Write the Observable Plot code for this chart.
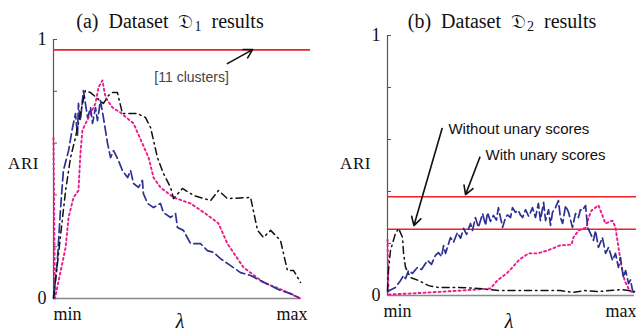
<!DOCTYPE html>
<html><head><meta charset="utf-8">
<script src="https://cdn.jsdelivr.net/npm/d3@7"></script>
<script src="https://cdn.jsdelivr.net/npm/@observablehq/plot@0.6"></script>
<style>
body{margin:0;background:#fff;}
#wrap{position:relative;width:636px;height:331px;overflow:hidden;font-family:"Liberation Serif","DejaVu Serif",serif;color:#111;}
.pl{position:absolute;top:0;}
.lbl{position:absolute;white-space:nowrap;line-height:20px;}
.ttl{font-size:20px;word-spacing:5px;}
.ttl sub{font-size:14px;vertical-align:baseline;position:relative;top:3px;margin-left:1px;}
.ari{font-size:17px;letter-spacing:0.6px;}
.lam{font-size:20px;font-style:italic;line-height:15px;}
</style></head><body><div id="wrap"></div>
<script>
// ---------- data ----------
const titles = ["(a)", "(b)"];
const datasetNames = ["\u{1D507}", "\u{1D507}"];
const datasetSubs = ["1", "2"];
const yAxisLabel = "ARI";
const xAxisLabel = "\u03BB";
const yTickLabels = [0, 1];
const yTickMarks = [0.2, 0.4, 0.6, 0.8, 1];
const xTickValues = [0, 1];
const xTickLabels = ["min", "max"];

// Panel (a)
const aBlackX = [0,0.02,0.049,0.069,0.089,0.109,0.129,0.15,0.178,0.202,0.223,0.239,0.259,0.279,0.34,0.372,0.393,0.421,0.445,0.474,0.486,0.522,0.567,0.636,0.668,0.704,0.798,0.826,0.85,0.879,0.919,0.947,0.972,1];
const aBlackY = [0,0.17,0.417,0.544,0.622,0.714,0.803,0.795,0.772,0.753,0.784,0.795,0.795,0.714,0.714,0.699,0.66,0.544,0.483,0.429,0.386,0.425,0.398,0.378,0.417,0.386,0.39,0.263,0.236,0.263,0.224,0.108,0.108,0.062];
const aPinkX = [0,0.006,0.015,0.049,0.061,0.081,0.101,0.109,0.117,0.13,0.15,0.17,0.182,0.198,0.211,0.239,0.271,0.324,0.36,0.385,0.405,0.433,0.486,0.555,0.615,0.668,0.704,0.769,0.85,0.931,1];
const aPinkY = [0.62,0,0.042,0.197,0.313,0.39,0.417,0.56,0.649,0.676,0.714,0.753,0.815,0.842,0.776,0.737,0.718,0.676,0.598,0.544,0.467,0.429,0.39,0.367,0.328,0.29,0.212,0.12,0.062,0.031,0];
const aBlueX = [0,0.015,0.028,0.04,0.061,0.077,0.089,0.097,0.101,0.109,0.121,0.138,0.15,0.158,0.17,0.178,0.19,0.202,0.219,0.231,0.243,0.263,0.279,0.3,0.312,0.324,0.344,0.36,0.364,0.381,0.405,0.433,0.445,0.474,0.494,0.502,0.526,0.555,0.595,0.623,0.648,0.676,0.717,0.757,0.798,0.838,0.879,0.919,0.96,0.992];
const aBlueY = [0.004,0.135,0.34,0.494,0.571,0.66,0.714,0.629,0.753,0.687,0.803,0.699,0.737,0.676,0.737,0.687,0.764,0.699,0.598,0.544,0.571,0.533,0.494,0.467,0.494,0.444,0.429,0.456,0.405,0.367,0.351,0.367,0.332,0.313,0.328,0.274,0.263,0.212,0.212,0.185,0.178,0.154,0.127,0.1,0.089,0.069,0.05,0.031,0.019,0.004];
const aRed = [0.96];
const aNoteText = ["[11 clusters]"];
const aNoteX = [0.559];
const aNoteY = [0.853];
const aArrowFrom = [[0.704, 0.907]];
const aArrowTo = [[0.806, 0.961]];

// Panel (b)
const bBlackX = [0,0.004,0.012,0.032,0.045,0.061,0.065,0.073,0.093,0.125,0.166,0.206,0.287,0.368,0.449,0.53,0.6,0.7,0.75,0.8,0.85,0.9,0.95,1];
const bBlackY = [0.02,0.096,0.173,0.238,0.258,0.223,0.162,0.108,0.069,0.058,0.038,0.031,0.031,0.027,0.019,0.019,0.019,0.019,0.012,0.019,0.015,0.019,0.023,0.015];
const bPinkX = [0,0.004,0.1,0.3,0.417,0.445,0.486,0.534,0.571,0.607,0.648,0.696,0.745,0.753,0.773,0.806,0.814,0.826,0.854,0.87,0.882,0.911,0.923,0.935,0.948,0.96,0.98,0.992];
const bPinkY = [0.215,0.004,0.008,0.019,0.027,0.058,0.088,0.138,0.162,0.162,0.173,0.192,0.196,0.223,0.25,0.262,0.3,0.327,0.347,0.308,0.277,0.288,0.262,0.185,0.108,0.058,0.019,0.012];
const bBlueX = [0,0.02,0.032,0.053,0.065,0.073,0.085,0.101,0.121,0.138,0.162,0.178,0.194,0.206,0.219,0.227,0.235,0.255,0.267,0.283,0.296,0.308,0.32,0.336,0.344,0.356,0.368,0.385,0.397,0.405,0.417,0.429,0.441,0.449,0.466,0.478,0.486,0.498,0.506,0.518,0.53,0.538,0.547,0.559,0.571,0.579,0.587,0.599,0.611,0.619,0.632,0.64,0.652,0.66,0.668,0.68,0.692,0.7,0.709,0.721,0.733,0.741,0.749,0.761,0.773,0.781,0.789,0.802,0.81,0.822,0.834,0.842,0.854,0.87,0.883,0.895,0.911,0.923,0.935,0.943,0.955,0.964,0.976,0.984,0.992,1];
const bBlueY = [0.015,0.025,0.031,0.058,0.077,0.065,0.096,0.085,0.108,0.1,0.135,0.12,0.154,0.165,0.15,0.192,0.162,0.223,0.205,0.242,0.22,0.258,0.235,0.277,0.25,0.3,0.262,0.315,0.27,0.319,0.285,0.308,0.29,0.338,0.262,0.3,0.31,0.3,0.338,0.32,0.327,0.31,0.3,0.33,0.305,0.32,0.338,0.3,0.354,0.288,0.358,0.288,0.33,0.27,0.32,0.338,0.365,0.3,0.277,0.346,0.32,0.29,0.262,0.315,0.3,0.33,0.327,0.346,0.262,0.238,0.212,0.25,0.185,0.223,0.162,0.185,0.135,0.162,0.108,0.146,0.069,0.096,0.046,0.06,0.019,0.008];
const bRed = [0.38, 0.255];
const bNoteText = ["Without unary scores", "With unary scores"];
const bNoteX = [0.532, 0.64];
const bNoteY = [0.641, 0.54];
const bArrowFrom = [[0.221, 0.642], [0.374, 0.532]];
const bArrowTo = [[0.107, 0.269], [0.316, 0.388]];

// ---------- styles ----------
const BLUE = "#2e3192", PINK = "#ec1a8c", BLACK = "#111", RED = "#ec2227";
const zip = (xs, ys) => xs.map((x, i) => ({x, y: ys[i]}));

function panel(o) {
  const notes = o.noteText.map((t, i) => ({t, x: o.noteX[i], y: o.noteY[i]}));
  const arrows = o.from.map((f, i) => ({x1: f[0], y1: f[1], x2: o.to[i][0], y2: o.to[i][1]}));
  return Plot.plot({
    width: 318, height: 331,
    marginLeft: o.ml, marginRight: o.mr, marginTop: o.mt, marginBottom: o.mb,
    style: {fontFamily: "Liberation Serif, serif", fontSize: "18px", color: "#111", background: "transparent", overflow: "visible"},
    x: {domain: [0, 1], axis: null},
    y: {domain: [0, 1]},
    marks: [
      Plot.ruleX([0], {stroke: "#555", strokeWidth: 1.2}),
      Plot.ruleY([0], {stroke: "#888", strokeWidth: 1.6}),
      Plot.axisY(yTickMarks, {tickSize: -4, tickFormat: () => "", stroke: "#555"}),
      Plot.axisY(yTickLabels, {tickSize: 0, tickPadding: 7, tickFormat: d => String(d), fontSize: 18}),
      Plot.text([xTickValues[0]], {x: d => d, y: 0, text: () => xTickLabels[0], textAnchor: "start",
        dx: o.minDx, dy: 16, fontSize: 18}),
      Plot.text([xTickValues[1]], {x: d => d, y: 0, text: () => xTickLabels[1], textAnchor: "end",
        dx: o.maxDx, dy: 16, fontSize: 18}),
      Plot.ruleY(o.red, {stroke: RED, strokeWidth: 1.6, insetRight: o.redInset}),
      Plot.line(zip(o.pinkX, o.pinkY), {x: "x", y: "y", stroke: PINK, strokeWidth: 1.9, strokeDasharray: "2,3"}),
      Plot.line(zip(o.blueX, o.blueY), {x: "x", y: "y", stroke: BLUE, strokeWidth: 1.7, strokeDasharray: "9,4"}),
      Plot.line(zip(o.blackX, o.blackY), {x: "x", y: "y", stroke: BLACK, strokeWidth: 1.5, strokeDasharray: "7,4,1.5,4"}),
      Plot.arrow(arrows, {x1: "x1", y1: "y1", x2: "x2", y2: "y2", stroke: "#111", strokeWidth: 1.6, headLength: 9}),
      Plot.text(notes, {x: "x", y: "y", text: "t", fontFamily: "Liberation Sans, Arial, sans-serif", fontSize: o.noteSize, fill: o.noteFill})
    ]
  });
}

const wrap = document.getElementById("wrap");
const pa = panel({ml: 53, mr: 18, mt: 39, mb: 33, minDx: 0, maxDx: 7, red: aRed, redInset: -10,
  blackX: aBlackX, blackY: aBlackY, pinkX: aPinkX, pinkY: aPinkY, blueX: aBlueX, blueY: aBlueY,
  noteText: aNoteText, noteX: aNoteX, noteY: aNoteY, from: aArrowFrom, to: aArrowTo, noteSize: 14, noteFill: "#444"});
const pb = panel({ml: 69, mr: 2, mt: 35, mb: 36, minDx: -4, maxDx: 2, red: bRed, redInset: -4,
  blackX: bBlackX, blackY: bBlackY, pinkX: bPinkX, pinkY: bPinkY, blueX: bBlueX, blueY: bBlueY,
  noteText: bNoteText, noteX: bNoteX, noteY: bNoteY, from: bArrowFrom, to: bArrowTo, noteSize: 15, noteFill: "#111"});
pa.classList.add("pl"); pa.style.left = "0px";
pb.classList.add("pl"); pb.style.left = "318px";
wrap.appendChild(pa); wrap.appendChild(pb);

function addLabel(cls, html, left, top, width, align) {
  const d = document.createElement("div");
  d.className = "lbl " + cls;
  d.innerHTML = html;
  d.style.left = left + "px"; d.style.top = top + "px";
  if (width) { d.style.width = width + "px"; d.style.textAlign = align || "center"; }
  wrap.appendChild(d);
  return d;
}
addLabel("ttl", `${titles[0]} Dataset ${datasetNames[0]}<sub>${datasetSubs[0]}</sub> results`, 40, 11, 260);
addLabel("ttl", `${titles[1]} Dataset ${datasetNames[1]}<sub>${datasetSubs[1]}</sub> results`, 372, 11, 260);
addLabel("ari", yAxisLabel, 8, 154);
addLabel("ari", yAxisLabel, 340, 154);
addLabel("lam", xAxisLabel, 150, 314, 60);
addLabel("lam", xAxisLabel, 479, 314, 60);
</script></body></html>
